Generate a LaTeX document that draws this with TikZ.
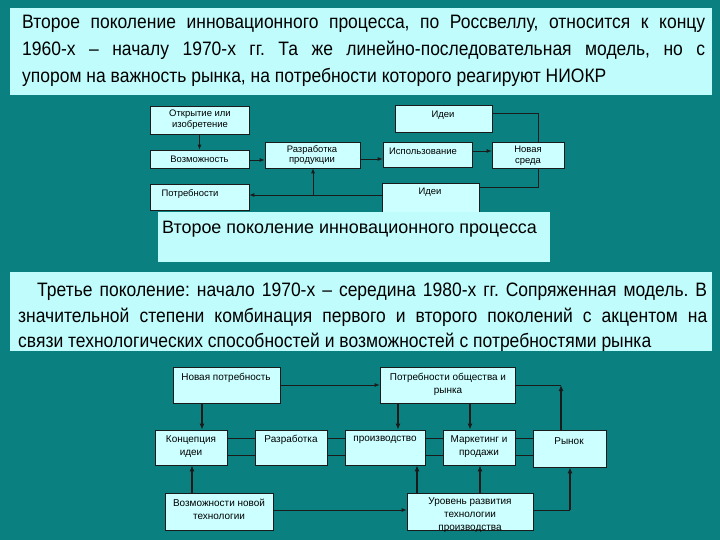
\documentclass[tikz,border=0pt]{standalone}
\usepackage{fontspec}
\setmainfont{Liberation Sans}
\newfontfamily\narrowf{Liberation Sans}[FakeStretch=0.9]
\usetikzlibrary{arrows.meta,fit}
\frenchspacing
\definecolor{bgc}{HTML}{0A8080}
\definecolor{boxc}{HTML}{CCFFFF}
\definecolor{parc}{HTML}{C0FCFC}
\definecolor{linec}{HTML}{1A1A1A}
\tikzset{
  box/.style={draw=linec, fill=boxc, line width=0.7bp, inner sep=0pt},
  parbox/.style={fill=parc, inner sep=0pt},
  lbl/.style={font=\fontsize{9.5}{11}\selectfont, align=center, inner sep=0pt, text=black},
  lblb/.style={font=\fontsize{10}{13}\selectfont, align=center, inner sep=0pt, text=black},
  parl/.style={font=\narrowf\fontsize{19.5}{22}\selectfont, inner sep=0pt, anchor=base west, text=black},
  thin/.style={draw=linec, line width=0.8bp},
  thinar/.style={thin, -{Latex[length=5bp,width=4bp]}},
  thick/.style={draw=linec, line width=2bp, -{Latex[length=6bp,width=5bp]}},
}
\begin{document}
\begin{tikzpicture}[x=1bp,y=-1bp]
\fill[bgc] (0,0) rectangle (720,540);
\useasboundingbox (0,0) rectangle (720,540);

% ---------- top paragraph ----------
\node[parbox, fit={(10,8)(712,95)}] (p1) {};
\node[parl] (p1a) at (22,29) {\makebox[683bp][s]{Второе поколение инновационного процесса, по Россвеллу, относится к концу}};
\node[parl] (p1b) at (22,56) {\makebox[683bp][s]{1960-х – началу 1970-х гг. Та же линейно-последовательная модель, но с}};
\node[parl] (p1c) at (22,83) {упором на важность рынка, на потребности которого реагируют НИОКР};

% ---------- diagram 1 ----------
\draw[thin] (492,113) -- (538,113) -- (538,187) -- (479,187);
\node[box, fit={(150,106)(249,134)}] (otk) {};
\node[lbl] (otkt) at (200,120) {Открытие или\\изобретение};
\node[box, fit={(150,150)(249,168)}] (voz) {};
\node[lbl] (vozt) at (voz.center) {Возможность};
\node[box, fit={(150,184)(249,210)}] (potr) {};
\node[lbl] (potrt) at (190,194) {Потребности};
\node[box, fit={(265,142)(360,168)}] (razr) {};
\node[lbl] (razrt) at (312,155) {Разработка\\продукции};
\node[box, fit={(383,142)(472,167)}] (isp) {};
\node[lbl] (ispt) at (423,151) {Использование};
\node[box, fit={(492,142)(564,168)}] (nov) {};
\node[lbl] (novt) at (528,156) {Новая\\среда};
\node[box, fit={(395,105)(492,132)}] (id1) {};
\node[lbl] (id1t) at (443,115) {Идеи};
\node[box, fit={(382,183)(479,212)}] (id2) {};
\node[lbl] (id2t) at (430,192) {Идеи};
\coordinate (jn) at (313,195);

\draw[thinar] (otk.south) -- (voz.north);
\draw[thinar] (voz.east |- 0,160) -- (razr.west |- 0,160);
\draw[thinar] (razr.east |- 0,159) -- (isp.west |- 0,159);
\draw[thinar] (isp.east |- 0,151) -- (nov.west |- 0,151);
\draw[thinar] (id2.west |- 0,195) -- (potr.east |- 0,195);
\draw[thinar] (jn) -- (razr.south -| jn);

\node[parbox, fit={(158,212)(550,262)}] (h1) {};
\node[font=\fontsize{18}{21}\selectfont, anchor=base west, inner sep=0pt] (h1t) at (162,234) {Второе поколение инновационного процесса};

% ---------- second paragraph ----------
\node[parbox, fit={(10,272)(712,351)}] (p2) {};
\node[parl] (p2a) at (37,296) {\makebox[670bp][s]{Третье поколение: начало 1970-х – середина 1980-х гг. Сопряженная модель. В}};
\node[parl] (p2b) at (18,322) {\makebox[689bp][s]{значительной степени комбинация первого и второго поколений с акцентом на}};
\node[parl] (p2c) at (18,347) {связи технологических способностей и возможностей с потребностями рынка};

% ---------- diagram 2 ----------
\draw[thin] (227,438) -- (533,438);
\draw[thin] (227,455) -- (533,455);
\node[box, fit={(173,367)(280,403)}] (np) {};
\node[lblb] (npt) at (226,378) {Новая потребность};
\node[box, fit={(380,367)(515,403)}] (po) {};
\node[lblb] (pot) at (448,384) {Потребности общества и\\рынка};
\node[box, fit={(155,430)(227,465)}] (k) {};
\node[lblb] (kt) at (191,447) {Концепция\\идеи};
\node[box, fit={(255,430)(327,465)}] (r) {};
\node[lblb] (rt) at (291,440) {Разработка};
\node[box, fit={(345,430)(425,465)}] (p) {};
\node[lblb] (pt) at (385,440) {производство};
\node[box, fit={(443,430)(515,465)}] (m) {};
\node[lblb] (mt) at (479,447) {Маркетинг и\\продажи};
\node[box, fit={(533,430)(606,467)}] (ry) {};
\node[lblb] (ryt) at (569,441) {Рынок};
\node[box, fit={(165,493)(273,530)}] (vn) {};
\node[lblb] (vnt) at (219,509) {Возможности новой\\технологии};
\node[box, fit={(407,493)(533,530)}] (ur) {};
\begin{scope}
\clip (407,493) rectangle (533,531);
\node[lblb] (urt) at (470,515) {Уровень развития\\технологии\\производства};
\end{scope}

\coordinate (c1) at (561,385);
\coordinate (c2) at (570,510);
\draw[thinar] (np.east |- 0,385) -- (po.west |- 0,385);
\draw[thin] (po.east |- c1) -- (c1);
\draw[thick] (ry.north -| c1) -- (c1);
\draw[thick] (np.south -| 202,0) -- (k.north -| 202,0);
\draw[thick] (po.south -| 398,0) -- (p.north -| 398,0);
\draw[thick] (po.south -| 470,0) -- (m.north -| 470,0);
\draw[thick] (vn.north -| 192,0) -- (k.south -| 192,0);
\draw[thinar] (vn.east |- 0,510) -- (ur.west |- 0,510);
\draw[thick] (ur.north -| 417,0) -- (p.south -| 417,0);
\draw[thick] (ur.north -| 480,0) -- (m.south -| 480,0);
\draw[thin] (ur.east |- c2) -- (c2);
\draw[thick] (c2) -- (ry.south -| c2);
\end{tikzpicture}
\end{document}
